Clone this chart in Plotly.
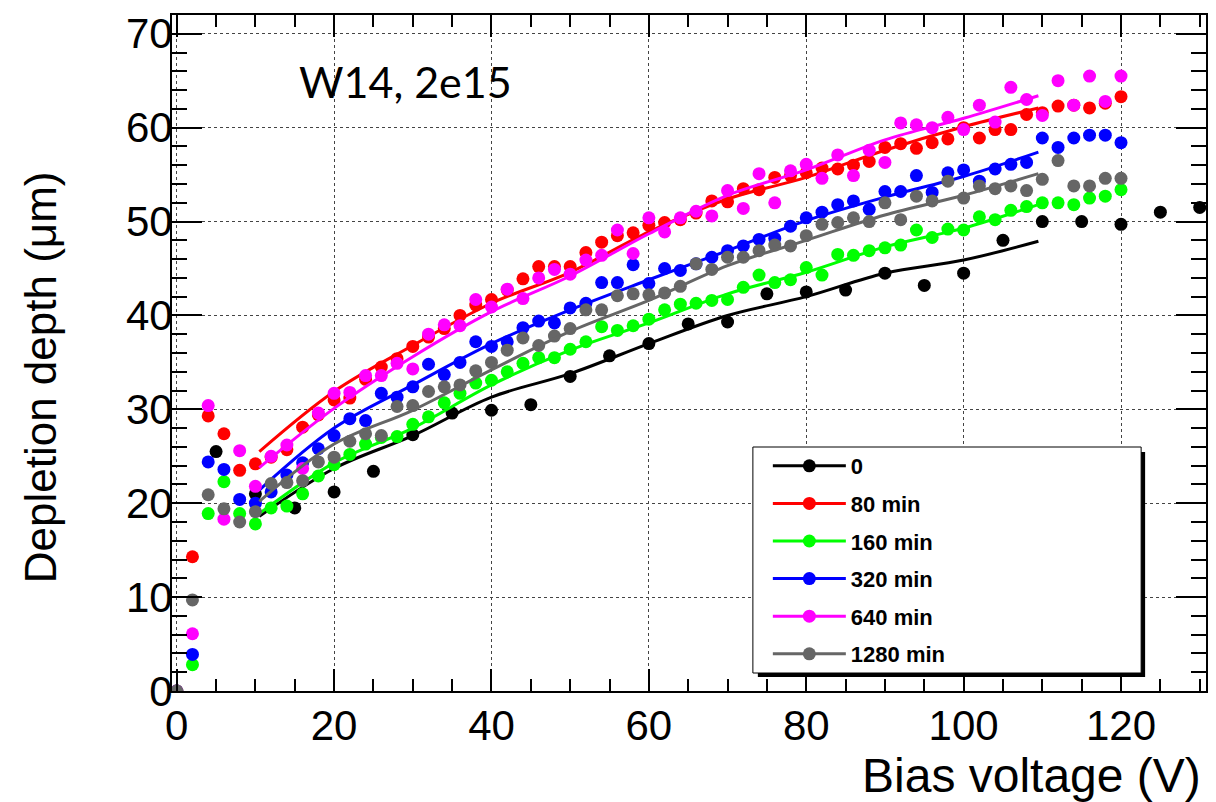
import plotly.graph_objects as go

# ---------------- data ----------------
volts = list(range(0, 122, 2))          # colored series sampled every 2 V
volts_black = list(range(0, 131, 5))    # "0" series sampled every 5 V

y_0 = [0, 25.5, 21.0, 19.5, 21.2, 23.4, 27.3, 29.6, 29.9, 30.5, 33.5, 35.7, 37.0, 39.1,
       39.3, 42.3, 42.5, 42.7, 44.5, 43.2, 44.5, 48.0, 50.0, 50.0, 49.7, 51.0, 51.5]

y_80 = [0, 14.3, 29.3, 27.4, 23.5, 24.2, 24.9, 25.7, 28.1, 29.4, 31.0, 31.2, 33.2, 34.5,
        35.4, 36.7, 37.7, 38.6, 40.0, 41.1, 41.7, 42.7, 43.9, 45.2, 45.2, 45.2, 46.7,
        47.8, 48.5, 48.8, 49.6, 49.9, 50.2, 50.9, 52.2, 52.1, 53.5, 53.4, 54.7, 54.9,
        55.2, 55.7, 55.6, 56.0, 56.4, 57.9, 58.3, 57.8, 58.4, 58.8, 60.0, 58.9, 59.8,
        59.8, 61.4, 61.6, 62.3, 62.4, 62.1, 62.6, 63.3]

y_160 = [0, 2.8, 18.9, 22.3, 18.9, 17.8, 19.5, 19.7, 21.0, 22.9, 24.1, 25.2, 26.3, 27.0,
         27.1, 28.4, 29.2, 30.7, 31.7, 32.8, 33.1, 34.0, 34.9, 35.5, 35.5, 36.4, 37.2,
         38.8, 38.4, 38.9, 39.6, 40.6, 41.2, 41.3, 41.6, 41.7, 43.0, 44.3, 43.5, 43.8,
         45.1, 44.3, 46.5, 46.4, 46.9, 47.2, 47.5, 49.1, 48.3, 49.2, 49.1, 50.5, 50.2,
         51.2, 51.6, 52.0, 52.0, 51.8, 52.5, 52.7, 53.4]

y_320 = [0, 3.9, 24.4, 23.6, 20.4, 20.0, 21.2, 23.0, 24.3, 25.8, 27.2, 29.0, 28.8, 31.7,
         31.3, 32.4, 34.8, 33.7, 35.0, 37.2, 36.7, 37.2, 38.7, 39.4, 39.2, 40.8, 41.3,
         43.5, 43.5, 45.4, 43.4, 45.0, 44.8, 45.5, 46.2, 46.9, 47.4, 48.1, 48.2, 49.5,
         50.4, 51.0, 51.8, 52.2, 51.3, 53.2, 53.2, 54.9, 53.1, 55.2, 55.5, 54.3, 55.6,
         56.1, 56.3, 58.9, 57.9, 58.9, 59.2, 59.2, 58.4]

y_640 = [0, 6.1, 30.4, 18.3, 25.6, 21.8, 25.0, 26.2, 23.7, 29.6, 31.7, 31.8, 33.6, 33.6,
         34.9, 34.3, 38.0, 39.0, 38.9, 41.7, 40.9, 42.8, 41.8, 44.0, 44.9, 44.4, 45.9,
         46.4, 49.1, 46.6, 50.4, 48.9, 50.4, 51.1, 50.6, 53.3, 51.4, 55.1, 52.0, 55.4,
         56.1, 54.6, 57.1, 54.9, 57.6, 56.3, 60.5, 60.3, 60.0, 61.1, 59.8, 62.4, 60.6,
         64.3, 63.0, 61.3, 65.0, 62.4, 65.5, 62.8, 65.5]

y_1280 = [0, 9.7, 20.9, 19.4, 18.0, 19.1, 22.1, 22.2, 22.4, 24.4, 24.9, 26.6, 27.4, 27.2,
          30.3, 30.4, 31.9, 32.4, 32.6, 34.1, 35.0, 36.3, 37.6, 36.8, 37.8, 38.6, 40.6,
          40.6, 42.1, 42.3, 42.2, 42.4, 43.1, 45.5, 44.9, 46.2, 46.2, 46.9, 47.5, 47.4,
          48.5, 49.7, 49.9, 50.4, 50.0, 52.0, 50.2, 52.7, 52.2, 54.3, 52.5, 53.8, 53.5,
          53.8, 53.3, 54.5, 56.5, 53.8, 53.8, 54.6, 54.6]

# smooth fit curves
fit_v = [10.5, 20, 30, 40, 50, 60, 70, 80, 90, 100, 109.5]
fit_0 = [18.6, 23.7, 27.2, 31.3, 33.8, 37.0, 40.0, 42.0, 44.5, 45.9, 47.9]
fit_80 = [25.5, 31.9, 36.8, 41.3, 44.6, 48.9, 52.4, 54.7, 57.6, 60.1, 62.1]
fit_160 = [18.9, 24.3, 28.0, 32.6, 36.3, 39.2, 42.3, 44.6, 47.3, 49.3, 51.8]
fit_320 = [21.4, 28.0, 32.6, 37.0, 40.6, 43.8, 46.9, 50.1, 52.6, 54.8, 57.4]
fit_640 = [23.8, 30.1, 35.6, 40.4, 44.2, 48.7, 52.8, 55.5, 58.7, 61.0, 63.4]
fit_1280 = [20.2, 26.3, 29.9, 34.2, 38.3, 41.6, 45.3, 48.0, 50.7, 52.8, 55.1]

names = ["0", "80 min", "160 min", "320 min", "640 min", "1280 min"]
colors = ["#000000", "#ff0000", "#00ff00", "#0000ff", "#ff00ff", "#666666"]
xs = [volts_black, volts, volts, volts, volts, volts]
ys = [y_0, y_80, y_160, y_320, y_640, y_1280]
fits = [fit_0, fit_80, fit_160, fit_320, fit_640, fit_1280]

x_ticks = [0, 20, 40, 60, 80, 100, 120]
y_ticks = [0, 10, 20, 30, 40, 50, 60, 70]

# ---------------- figure ----------------
W, H = 1216, 802
ML, MR, MT, MB = 172, 8, 15, 111
PW, PH = W - ML - MR, H - MT - MB


def px(xpix):
    return (xpix - ML) / PW


def py(ypix):
    return (H - MB - ypix) / PH


fig = go.Figure()

for i, (n, c, x, y, f) in enumerate(zip(names, colors, xs, ys, fits)):
    g = "g%d" % i
    fig.add_trace(go.Scatter(x=x, y=y, mode="markers", legendgroup=g, showlegend=False,
                             marker=dict(color=c, size=13, line=dict(width=0)),
                             hoverinfo="skip"))
    fig.add_trace(go.Scatter(x=fit_v, y=f, mode="lines", legendgroup=g, showlegend=False,
                             line=dict(color=c, width=3, shape="spline"), hoverinfo="skip"))
    fig.add_trace(go.Scatter(x=[None], y=[None], mode="lines+markers", name=n, legendgroup=g,
                             line=dict(color=c, width=3),
                             marker=dict(color=c, size=13)))

axis_common = dict(
    showline=True, linecolor="black", linewidth=2, mirror="allticks",
    ticks="inside", tickcolor="black", tickwidth=2,
    showgrid=True, gridcolor="#444444", gridwidth=1, griddash="dot",
    zeroline=False,
    tickfont=dict(family="Liberation Sans, Arial", size=42, color="black"),
)

fig.update_xaxes(range=[-0.6, 130.8], tickvals=x_ticks, ticklen=22,
                 ticklabelstandoff=-3,
                 minor=dict(dtick=5, ticklen=12, ticks="inside", tickcolor="black",
                            tickwidth=2, showgrid=False),
                 **axis_common)
fig.update_yaxes(range=[0, 72], tickvals=y_ticks, ticklen=30,
                 ticklabelstandoff=-11,
                 minor=dict(dtick=2, ticklen=15, ticks="inside", tickcolor="black",
                            tickwidth=2, showgrid=False),
                 **axis_common)

# legend frame with shadow (decoration)
bx0, bx1, by0, by1 = 754, 1143, 447, 673
shapes = [
    dict(type="rect", xref="paper", yref="paper", layer="above",
         x0=px(bx0 + 5), x1=px(bx1 + 4), y0=py(by1 + 4), y1=py(by0 + 5),
         fillcolor="black", line=dict(width=0)),
    dict(type="rect", xref="paper", yref="paper", layer="above",
         x0=px(bx0), x1=px(bx1), y0=py(by1), y1=py(by0),
         fillcolor="white", line=dict(color="black", width=1)),
]

annotations = [
    dict(text="W14, 2e15", xref="paper", yref="paper", x=px(406), y=py(81),
         xanchor="center", yanchor="middle", showarrow=False,
         font=dict(family="Lato, Open Sans, sans-serif", size=43, color="black")),
    dict(text="Bias voltage (V)", xref="paper", yref="paper", x=px(1205), y=py(775),
         xanchor="right", yanchor="middle", showarrow=False,
         font=dict(family="Liberation Sans, Arial", size=48, color="black")),
    dict(text="Depletion depth (\u03bcm)", xref="paper", yref="paper", x=px(40), y=py(377),
         xanchor="center", yanchor="middle", showarrow=False, textangle=-90,
         font=dict(family="Liberation Sans, Arial", size=44, color="black")),
]

fig.update_layout(
    width=W, height=H,
    margin=dict(l=ML, r=MR, t=MT, b=MB),
    paper_bgcolor="white", plot_bgcolor="white",
    shapes=shapes, annotations=annotations,
    showlegend=True,
    legend=dict(x=px(769), y=py(445), xanchor="left", yanchor="top",
                bgcolor="rgba(0,0,0,0)", borderwidth=0,
                traceorder="grouped", tracegroupgap=6, itemwidth=73,
                font=dict(family="Liberation Sans, Arial", size=22, color="black",
                          weight="bold")),
)

fig.write_html("out.html")
